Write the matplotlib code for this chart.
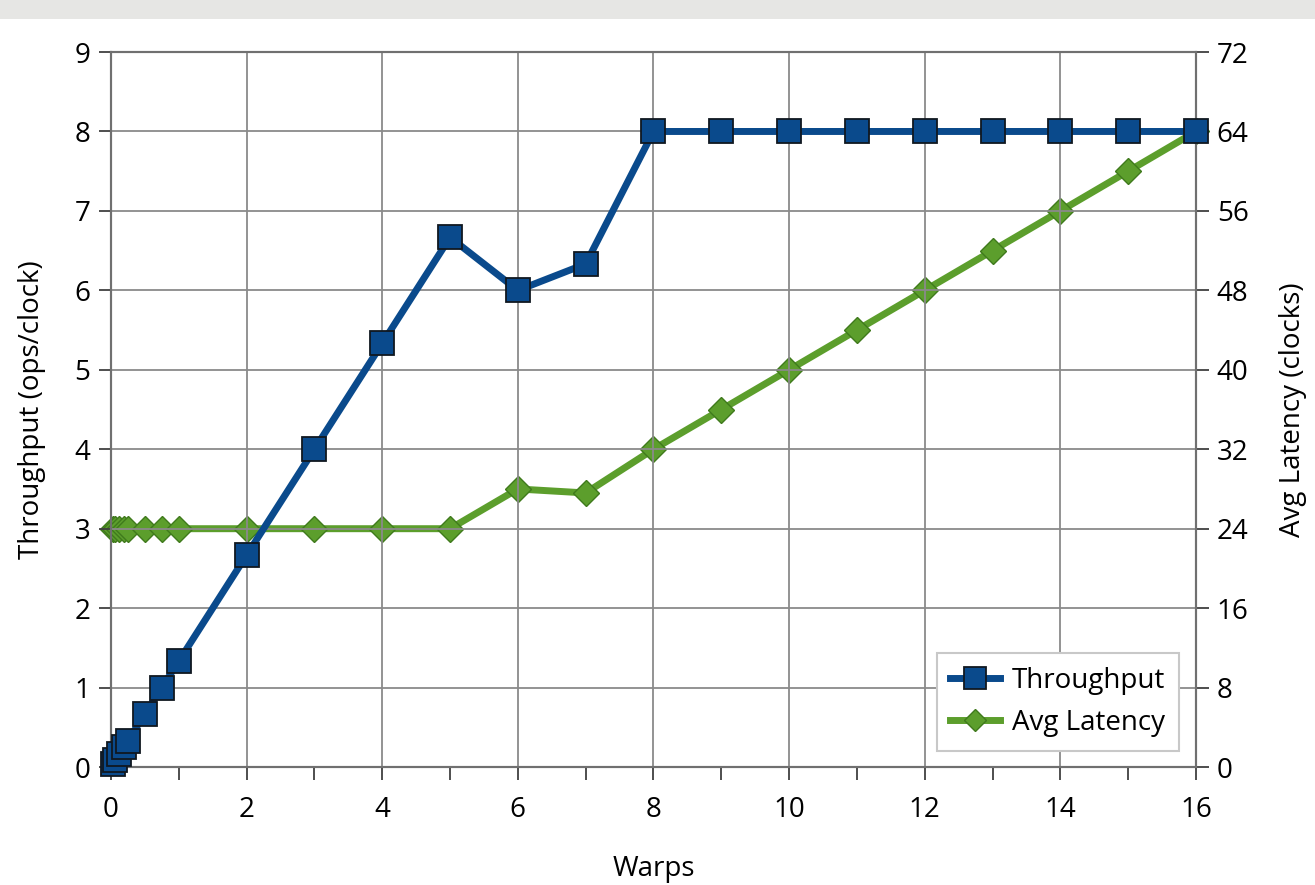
import matplotlib
matplotlib.use("Agg")
import matplotlib.pyplot as plt
from matplotlib.patches import Rectangle
from matplotlib.ticker import MultipleLocator

plt.rcParams['font.family'] = ['Open Sans', 'DejaVu Sans']

# Data
warps = [0.03125, 0.0625, 0.125, 0.1875, 0.25, 0.5, 0.75, 1, 2, 3, 4, 5, 6, 7,
         8, 9, 10, 11, 12, 13, 14, 15, 16]
throughput = [0.042, 0.083, 0.167, 0.25, 0.333, 0.667, 1.0, 1.333, 2.667, 4.0,
              5.333, 6.667, 6.0, 6.333, 8, 8, 8, 8, 8, 8, 8, 8, 8]
latency = [24, 24, 24, 24, 24, 24, 24, 24, 24, 24, 24, 24, 28, 27.6,
           32, 36, 40, 44, 48, 52, 56, 60, 64]

BLUE = '#0a4a8c'
GREEN = '#5c9e2c'

fig = plt.figure(figsize=(13.15, 8.85), dpi=100)
# grey strip left over from the cropped slide title
fig.patches.append(Rectangle((0, 0.978), 1, 0.022, transform=fig.transFigure,
                             facecolor='#e6e6e4', edgecolor='none'))

ax = fig.add_axes([0.0844, 0.1333, 0.8251, 0.8079])
ax2 = ax.twinx()
# throughput drawn on top of latency
ax.set_zorder(ax2.get_zorder() + 1)
ax.patch.set_visible(False)

ax2.plot(warps, latency, color=GREEN, lw=5, marker='D', ms=13,
         mfc=GREEN, mec='#3f7a1c', mew=1.0, label='Avg Latency', zorder=3,
         clip_on=False)
ax.plot(warps, throughput, color=BLUE, lw=5, marker='s', ms=17,
        mfc=BLUE, mec='#101820', mew=1.3, label='Throughput', zorder=3,
        clip_on=False)

ax.set_xlim(0, 16)
ax.set_ylim(0, 9)
ax2.set_ylim(0, 72)
ax.xaxis.set_major_locator(MultipleLocator(2))
ax.xaxis.set_minor_locator(MultipleLocator(1))
ax.yaxis.set_major_locator(MultipleLocator(1))
ax2.yaxis.set_major_locator(MultipleLocator(8))

ax2.grid(False)
ax.grid(True, which='major', color='#8a8a8a', lw=1.3, zorder=0)

for a in (ax, ax2):
    for s in a.spines.values():
        s.set_color('#707070')
        s.set_linewidth(1.5)
ax.tick_params(axis='both', which='major', labelsize=20, length=9, width=1.3,
               color='#404040', pad=6)
ax.tick_params(axis='x', which='major', pad=12)
ax.tick_params(axis='x', which='minor', length=9, width=1.3, color='#404040')
ax2.tick_params(axis='y', labelsize=20, length=9, width=1.3, color='#404040', pad=6)

ax.set_xlabel('Warps', fontsize=20, labelpad=22)
ax.set_ylabel('Throughput (ops/clock)', fontsize=20, labelpad=20)
ax2.set_ylabel('Avg Latency (clocks)', fontsize=20, labelpad=22)

h1, l1 = ax.get_legend_handles_labels()
h2, l2 = ax2.get_legend_handles_labels()
leg = ax.legend(h1 + h2, l1 + l2, loc='lower right', fontsize=20,
                fancybox=False, framealpha=1, edgecolor='#c8c8c8',
                bbox_to_anchor=(0.997, 0.003), handlelength=1.8,
                borderpad=0.5, labelspacing=0.5, handletextpad=0.4,
                markerscale=0.9)
leg.get_frame().set_linewidth(1.5)
leg.set_zorder(5)

fig.savefig('out.png', dpi=100)
